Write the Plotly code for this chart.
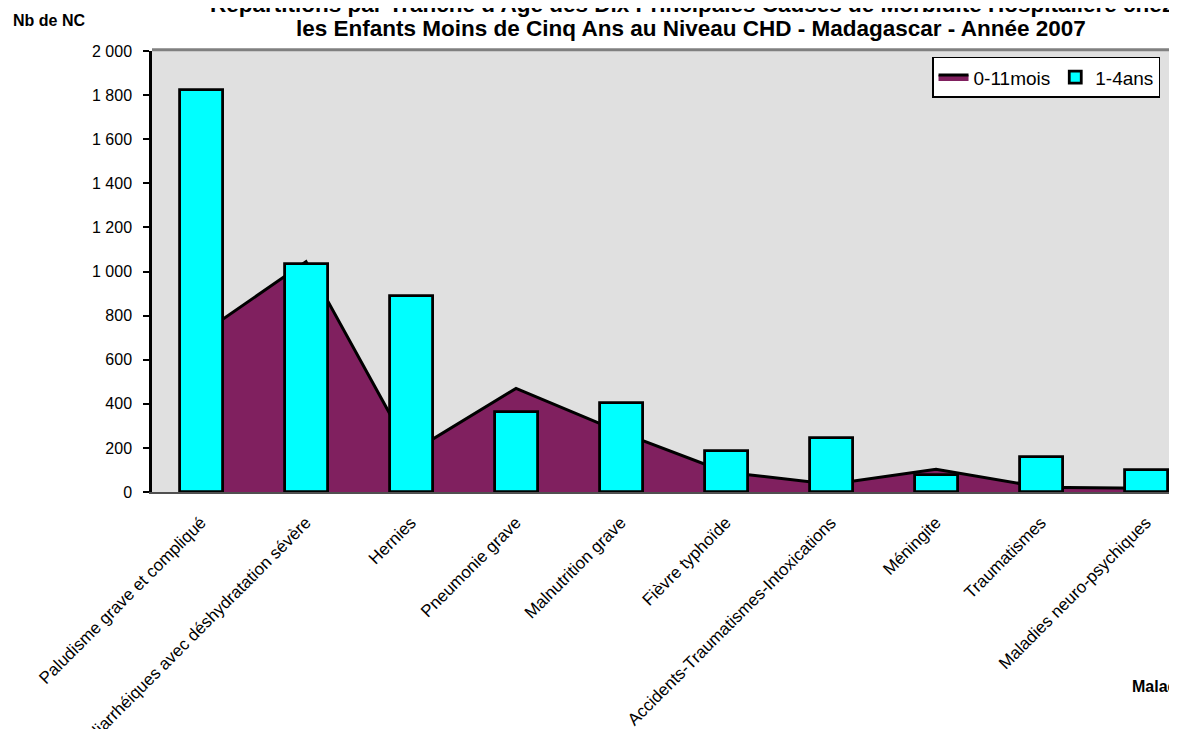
import plotly.graph_objects as go

categories = [
    "Paludisme grave et compliqué",
    "Maladies diarrhéiques avec déshydratation sévère",
    "Hernies",
    "Pneumonie grave",
    "Malnutrition grave",
    "Fièvre typhoïde",
    "Accidents-Traumatismes-Intoxications",
    "Méningite",
    "Traumatismes",
    "Maladies neuro-psychiques",
]
infants_0_11 = [715, 1045, 180, 470, 270, 90, 35, 103, 22, 17]
enfants_1_4 = [1825, 1035, 890, 365, 402, 188, 246, 75, 159, 98]
y_ticks = [0, 200, 400, 600, 800, 1000, 1200, 1400, 1600, 1800, 2000]
y_tick_text = ["0", "200", "400", "600", "800", "1 000", "1 200", "1 400", "1 600", "1 800", "2 000"]

FONT = "Liberation Sans, Arial, sans-serif"
xpos = list(range(len(categories)))

fig = go.Figure()
fig.add_trace(go.Scatter(
    x=xpos, y=infants_0_11, name="0-11mois", mode="lines",
    fill="tozeroy", fillcolor="#80205F",
    line=dict(color="black", width=3),
    xaxis="x", yaxis="y",
))
fig.add_trace(go.Bar(
    x=xpos, y=enfants_1_4, name="1-4ans", width=0.41,
    marker=dict(color="#00FFFF", line=dict(color="black", width=2.8)),
    xaxis="x", yaxis="y2",
))

# page has an 8px body margin: figure sized/offset to compensate
fig.update_layout(
    width=1169, height=721,
    margin=dict(l=144, r=0, t=43, b=237),
    paper_bgcolor="white", plot_bgcolor="#E0E0E0",
    font=dict(family=FONT, size=16, color="black"),
    showlegend=True,
    legend=dict(
        orientation="h", x=0.761, y=0.987, xanchor="left", yanchor="top",
        bgcolor="white", bordercolor="black", borderwidth=1.5,
        font=dict(size=19), itemwidth=30,
    ),
    xaxis=dict(
        range=[-0.467, 9.295], tickvals=xpos, ticktext=categories,
        tickangle=-45, showgrid=False, zeroline=False, showline=True,
        linecolor="#505050", linewidth=2, ticks="", automargin=False,
        tickfont=dict(size=17), ticklabelstandoff=12,
    ),
    yaxis=dict(
        range=[0, 2000], tickvals=y_ticks, ticktext=y_tick_text,
        showgrid=False, zeroline=False, showline=True, linecolor="black",
        linewidth=2.5, ticks="outside", ticklen=6, tickwidth=2, tickcolor="black",
        ticklabelstandoff=8, automargin=False, tickfont=dict(size=16),
    ),
    yaxis2=dict(
        range=[0, 2000], overlaying="y", visible=False, showgrid=False,
        zeroline=False,
    ),
    bargap=0,
    shapes=[dict(type="line", xref="paper", yref="paper", x0=0, x1=1, y0=1.003, y1=1.003,
                 line=dict(color="#808080", width=3))],
    annotations=[
        dict(text="<b>Répartitions par Tranche d'Age des Dix Principales Causes de Morbidité Hospitalière chez</b>",
             xref="paper", yref="paper", x=0.526, y=1.105, xanchor="center", yanchor="middle",
             showarrow=False, font=dict(size=22.5)),
        dict(text="<b>les Enfants Moins de Cinq Ans au Niveau CHD - Madagascar - Année 2007</b>",
             xref="paper", yref="paper", x=0.526, y=1.052, xanchor="center", yanchor="middle",
             showarrow=False, font=dict(size=22.5)),
        dict(text="<b>Nb de NC</b>", xref="paper", yref="paper", x=-0.1005, y=1.069,
             xanchor="center", yanchor="middle", showarrow=False, font=dict(size=16)),
        dict(text="<b>Maladies</b>", xref="paper", yref="paper", x=0.954, y=-0.44,
             xanchor="left", yanchor="middle", showarrow=False, font=dict(size=16)),
    ],
)

fig.write_html("out.html")
